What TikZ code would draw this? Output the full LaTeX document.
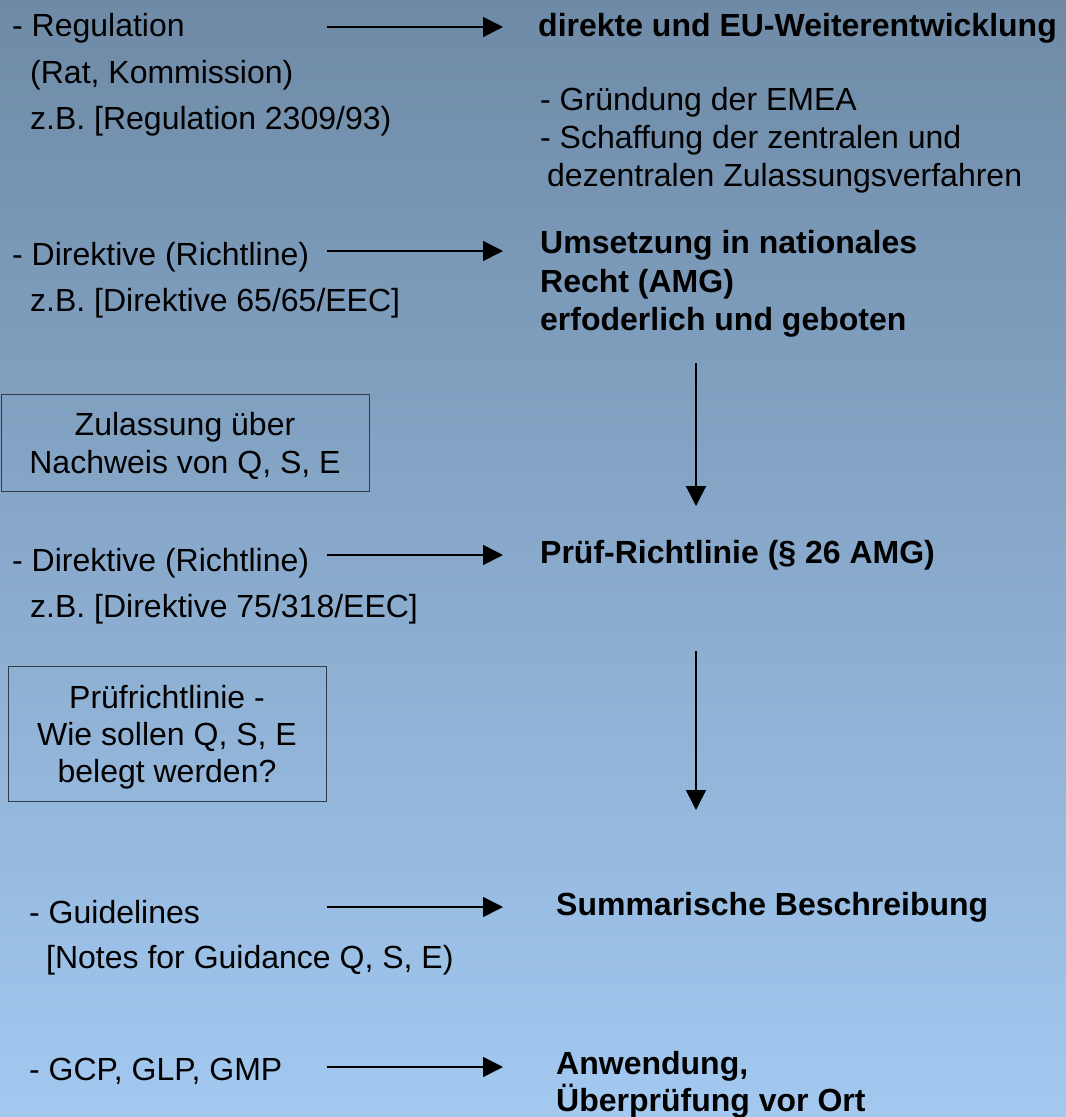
\documentclass[tikz,border=0pt]{standalone}
\usepackage{fontspec}
\setmainfont{Liberation Sans}
\usetikzlibrary{arrows.meta}
\definecolor{bgtop}{HTML}{6E8AA6}
\definecolor{bgbot}{HTML}{A3C9F1}
\definecolor{frame}{HTML}{323C48}
\begin{document}
\begin{tikzpicture}[x=1pt,y=-1pt,
  txt/.style={anchor=base west, inner sep=0pt, font=\fontsize{32}{38}\selectfont},
  btxt/.style={anchor=base west, inner sep=0pt, font=\fontsize{32}{38}\selectfont\bfseries},
  ctxt/.style={anchor=base, inner sep=0pt, font=\fontsize{32}{38}\selectfont},
  conn/.style={line width=1.6pt, -{Triangle[length=20pt,width=20pt]}},
  boxframe/.style={draw=frame, line width=1.1pt, anchor=north west, inner sep=0pt}]
\useasboundingbox (0,0) rectangle (1066,1117);
\shade[top color=bgtop, bottom color=bgbot] (0,0) rectangle (1066,1117);

% left column
\node[txt] (reg1) at (12,36) {- Regulation};
\node[txt] (reg2) at (30,83) {(Rat, Kommission)};
\node[txt] (reg3) at (30,129) {z.B. [Regulation 2309/93)};
\node[txt] (dir1) at (12,265) {- Direktive (Richtline)};
\node[txt] (dir2) at (30,311) {z.B. [Direktive 65/65/EEC]};
\node[boxframe, minimum width=368pt, minimum height=97pt] (box1) at (1,394) {};
\node[ctxt] (box1a) at (185,435) {Zulassung über};
\node[ctxt] (box1b) at (185,473) {Nachweis von Q, S, E};
\node[txt] (dirb1) at (12,571) {- Direktive (Richtline)};
\node[txt] (dirb2) at (30,617) {z.B. [Direktive 75/318/EEC]};
\node[boxframe, minimum width=318pt, minimum height=135pt] (box2) at (8,666) {};
\node[ctxt] (box2a) at (167,708) {Prüfrichtlinie -};
\node[ctxt] (box2b) at (167,745) {Wie sollen Q, S, E};
\node[ctxt] (box2c) at (167,782) {belegt werden?};
\node[txt] (gl1) at (29,923) {- Guidelines};
\node[txt] (gl2) at (46,968) {[Notes for Guidance Q, S, E)};
\node[txt] (gcp) at (29,1080) {- GCP, GLP, GMP};

% right column
\node[btxt] (eu) at (538,36) {direkte und EU-Weiterentwicklung};
\node[txt] (eu1) at (540,110) {- Gründung der EMEA};
\node[txt] (eu2) at (540,148) {- Schaffung der zentralen und};
\node[txt] (eu3) at (547,186) {dezentralen Zulassungsverfahren};
\node[btxt] (um1) at (540,253) {Umsetzung in nationales};
\node[btxt] (um2) at (540,292) {Recht (AMG)};
\node[btxt] (um3) at (540,330) {erfoderlich und geboten};
\node[btxt] (pr) at (540,563) {Prüf-Richtlinie (§ 26 AMG)};
\node[btxt] (sum) at (556,915) {Summarische Beschreibung};
\node[btxt] (an1) at (556,1074) {Anwendung,};
\node[btxt] (an2) at (556,1111) {Überprüfung vor Ort};

% connector ends
\coordinate (h1s) at (327,27);   \coordinate (h1e) at (503,27);
\coordinate (h2s) at (327,251);  \coordinate (h2e) at (503,251);
\coordinate (h3s) at (327,555);  \coordinate (h3e) at (503,555);
\coordinate (h4s) at (327,907);  \coordinate (h4e) at (503,907);
\coordinate (h5s) at (327,1067); \coordinate (h5e) at (503,1067);
\coordinate (v1s) at (696,363);  \coordinate (v1e) at (696,506);
\coordinate (v2s) at (696,651);  \coordinate (v2e) at (696,810);

\draw[conn] (h1s) -- (h1e);
\draw[conn] (h2s) -- (h2e);
\draw[conn] (h3s) -- (h3e);
\draw[conn] (h4s) -- (h4e);
\draw[conn] (h5s) -- (h5e);
\draw[conn] (v1s) -- (v1e);
\draw[conn] (v2s) -- (v2e);
\end{tikzpicture}
\end{document}
